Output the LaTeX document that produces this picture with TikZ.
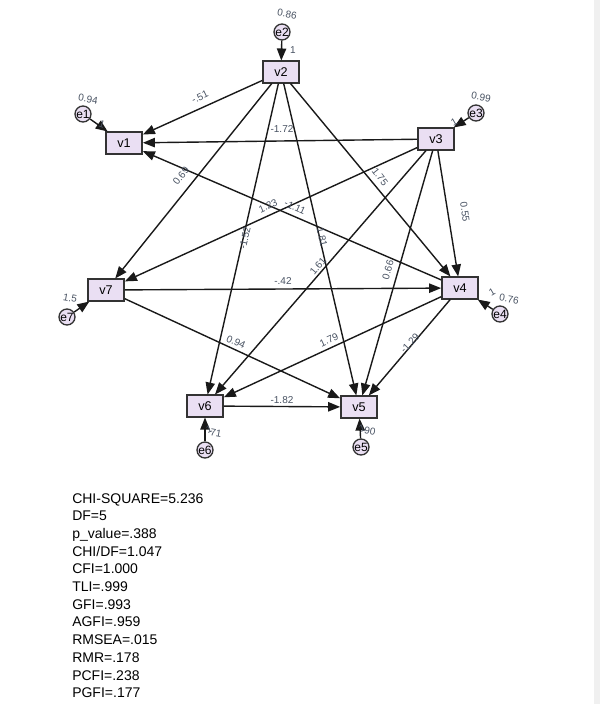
\documentclass[tikz,border=0pt]{standalone}
\usepackage{fontspec}
\setmainfont{Liberation Sans}
\usetikzlibrary{arrows.meta}
\definecolor{boxfill}{RGB}{234,223,243}
\definecolor{lbl}{RGB}{72,82,98}
\definecolor{edgec}{RGB}{25,25,25}
\definecolor{strip}{RGB}{240,240,240}
\begin{document}
\begin{tikzpicture}[x=0.75pt,y=-0.75pt,
  obs/.style={draw=black!80, line width=1.3pt, fill=boxfill, minimum width=27pt, minimum height=16pt, inner sep=0pt, font=\fontsize{9.5}{11}\selectfont},
  err/.style={circle, draw=black!80, line width=1pt, fill=boxfill, minimum size=12pt, inner sep=0pt, font=\fontsize{9}{9}\selectfont},
  link/.style={draw=edgec, line width=1.05pt, -{Triangle[length=9pt,width=7pt]}},
  wt/.style={font=\fontsize{7.5}{8}\selectfont, text=lbl, inner sep=0pt},
  stat/.style={font=\fontsize{10.5}{12}\selectfont, anchor=base west, inner sep=0pt}]
\useasboundingbox (0,0) rectangle (600,704);
\fill[strip] (594,0) rectangle (600,704);

% observed variables
\node[obs] (v2) at (281,72) {v2};
\node[obs] (v1) at (124,143) {v1};
\node[obs] (v3) at (436,139) {v3};
\node[obs] (v7) at (106,290) {v7};
\node[obs] (v4) at (460,288) {v4};
\node[obs] (v6) at (205,406) {v6};
\node[obs] (v5) at (359,407) {v5};

% error terms
\node[err] (e2) at (282,32) {e2};
\node[err] (e1) at (83,114) {e1};
\node[err] (e3) at (476,113) {e3};
\node[err] (e7) at (67,317) {e7};
\node[err] (e4) at (500,314) {e4};
\node[err] (e6) at (205,450) {e6};
\node[err] (e5) at (361,447) {e5};

% error arrows
\draw[link] (e2) -- (v2);
\draw[link] (e1) -- (v1);
\draw[link] (e3) -- (v3);
\draw[link] (e7) -- (v7);
\draw[link] (e4) -- (v4);
\draw[link] (e6) -- (v6);
\draw[link] (e5) -- (v5);

% structural paths
\draw[link] (v2) -- (v1);
\draw[link] (v3) -- (v1);
\draw[link] (v4) -- (v1);
\draw[link] (v2) -- (v7);
\draw[link] (v2) -- (v6);
\draw[link] (v2) -- (v5);
\draw[link] (v2) -- (v4);
\draw[link] (v3) -- (v7);
\draw[link] (v3) -- (v6);
\draw[link] (v3) -- (v5);
\draw[link] (v3) -- (v4);
\draw[link] (v7) -- (v4);
\draw[link] (v7) -- (v5);
\draw[link] (v4) -- (v6);
\draw[link] (v4) -- (v5);
\draw[link] (v6) -- (v5);

% variances and fixed weights
\node[wt, rotate=-10] (l86) at (287,14) {0.86};
\node[wt] (f2) at (293,50) {1};
\node[wt, rotate=-10] (l94) at (88,99) {0.94};
\node[wt, rotate=-20] (f1) at (102,124) {1};
\node[wt, rotate=-10] (l99) at (481,97) {0.99};
\node[wt, rotate=30] (f3) at (454,122) {1};
\node[wt, rotate=-10] (l15) at (70,298) {1.5};
\node[wt, rotate=-10] (l76) at (509,299) {0.76};
\node[wt, rotate=30] (f4) at (492,292) {1};
\node[wt, rotate=-10] (l71) at (216,433) {71};
\node[wt, rotate=20] (f6) at (209,429) {1};
\node[wt, rotate=-10] (l90) at (370,431) {90};
\node[wt, rotate=20] (f5) at (362,428) {1};

% path coefficients
\node[wt, rotate=26] (w21) at (200,97) {-.51};
\node[wt] (w31) at (282,129) {-1.72};
\node[wt, rotate=52] (w27) at (181,176) {0.69};
\node[wt, rotate=-52] (w24) at (380,177) {1.75};
\node[wt, rotate=-82] (w34) at (465,212) {0.55};
\node[wt, rotate=78] (w26) at (245,238) {-1.52};
\node[wt, rotate=-78] (w25) at (322,237) {1.81};
\node[wt, rotate=50] (w36) at (318,266) {1.61};
\node[wt, rotate=74] (w35) at (388,270) {0.66};
\node[wt, rotate=24] (w37) at (268,206) {1.23};
\node[wt, rotate=-24] (w41) at (295,207) {-1.11};
\node[wt] (w74) at (283,281) {-.42};
\node[wt, rotate=-25] (w75) at (236,342) {0.94};
\node[wt, rotate=25] (w46) at (329,340) {1.79};
\node[wt, rotate=47] (w45) at (410,343) {-1.29};
\node[wt] (w65) at (282,400) {-1.82};

% fit statistics
\foreach \t [count=\i] in {CHI-SQUARE=5.236, DF=5, p\_value=.388, CHI/DF=1.047, CFI=1.000, TLI=.999, GFI=.993, AGFI=.959, RMSEA=.015, RMR=.178, PCFI=.238, PGFI=.177}
  \node[stat] (s\i) at (72,{503+17.7*(\i-1)}) {\t};
\end{tikzpicture}
\end{document}
